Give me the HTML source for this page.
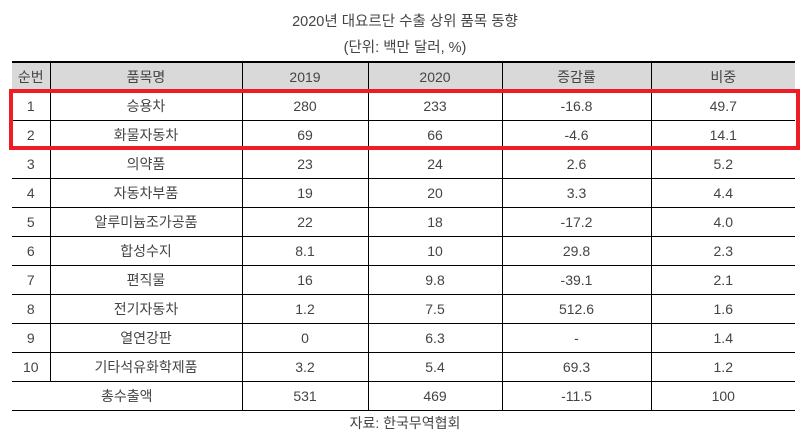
<!DOCTYPE html>
<html><head><meta charset="utf-8"><style>
body{margin:0;width:810px;height:436px;background:#fff;font-family:"Liberation Sans","Noto Sans CJK KR",sans-serif;color:#444;position:relative;overflow:hidden}
.t{position:absolute;left:0;width:810px;text-align:center;font-size:14.5px}
table{position:absolute;left:12px;top:61px;border-collapse:collapse;table-layout:fixed;border-top:2px solid #000;font-size:14px}
td,th{height:28px;padding:0;text-align:center;border-left:1px solid #000;border-right:1px solid #000;border-bottom:1px solid #000;font-weight:normal}
tr td:first-child,tr th:first-child{border-left:none}
tr td:last-child,tr th:last-child{border-right:none}
th{background:#d9d9d9}
#hl{position:absolute;left:9px;top:89px;width:783px;height:53px;border:4px solid #ee1c25}
</style></head><body>
<div class="t" style="top:10px">2020년 대요르단 수출 상위 품목 동향</div>
<div class="t" style="top:36px">(단위: 백만 달러, %)</div>
<table>
<colgroup><col style="width:38px"><col style="width:192px"><col style="width:126px"><col style="width:134px"><col style="width:149px"><col style="width:144px"></colgroup>
<tr><th>순번</th><th>품목명</th><th>2019</th><th>2020</th><th>증감률</th><th>비중</th></tr>
<tr><td>1</td><td>승용차</td><td>280</td><td>233</td><td>-16.8</td><td>49.7</td></tr>
<tr><td>2</td><td>화물자동차</td><td>69</td><td>66</td><td>-4.6</td><td>14.1</td></tr>
<tr><td>3</td><td>의약품</td><td>23</td><td>24</td><td>2.6</td><td>5.2</td></tr>
<tr><td>4</td><td>자동차부품</td><td>19</td><td>20</td><td>3.3</td><td>4.4</td></tr>
<tr><td>5</td><td>알루미늄조가공품</td><td>22</td><td>18</td><td>-17.2</td><td>4.0</td></tr>
<tr><td>6</td><td>합성수지</td><td>8.1</td><td>10</td><td>29.8</td><td>2.3</td></tr>
<tr><td>7</td><td>편직물</td><td>16</td><td>9.8</td><td>-39.1</td><td>2.1</td></tr>
<tr><td>8</td><td>전기자동차</td><td>1.2</td><td>7.5</td><td>512.6</td><td>1.6</td></tr>
<tr><td>9</td><td>열연강판</td><td>0</td><td>6.3</td><td>-</td><td>1.4</td></tr>
<tr><td>10</td><td>기타석유화학제품</td><td>3.2</td><td>5.4</td><td>69.3</td><td>1.2</td></tr>
<tr><td colspan="2">총수출액</td><td>531</td><td>469</td><td>-11.5</td><td>100</td></tr>
</table>
<div id="hl"></div>
<div class="t" style="top:413px;font-size:14px">자료: 한국무역협회</div>
</body></html>
